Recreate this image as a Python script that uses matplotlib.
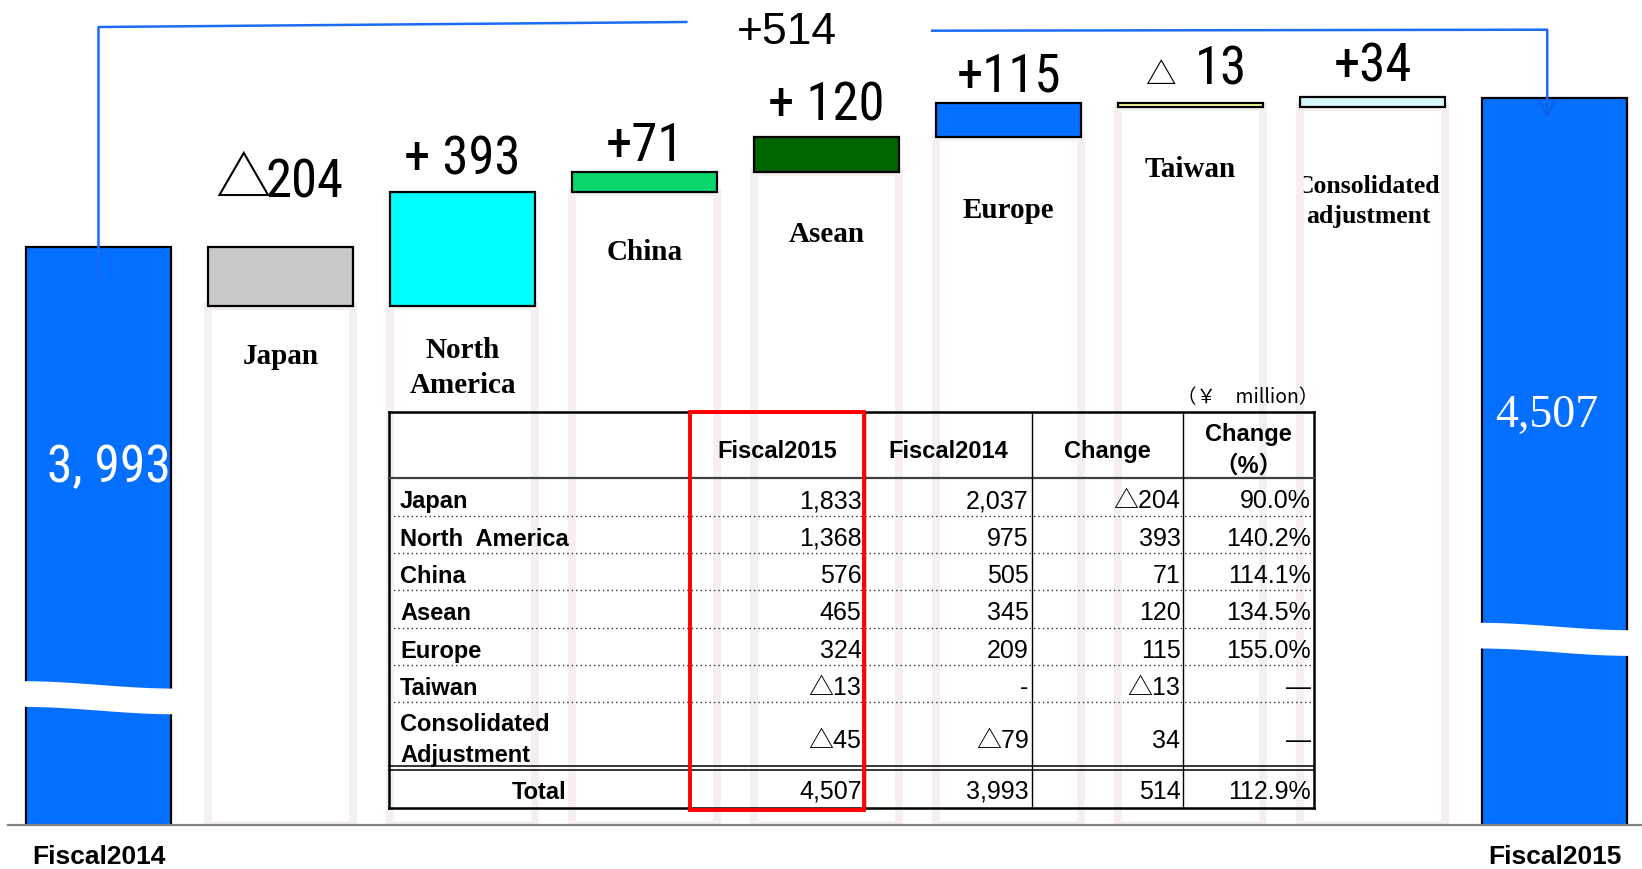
import numpy as np
import matplotlib.pyplot as plt
from matplotlib import font_manager
from matplotlib.font_manager import FontProperties
from matplotlib.patches import Rectangle

# Chart data (¥ million)
fiscal2014_total = 3993
fiscal2015_total = 4507
regions = ['Japan', 'North\nAmerica', 'China', 'Asean', 'Europe', 'Taiwan', 'Consolidated\nadjustment']
changes = [-204, 393, 71, 120, 115, -13, 34]
change_labels = ['△204', '+ 393', '+71', '+ 120', '+115', '△ 13', '+34']
total_change_label = '+514'
region_colors = ['#C8C8C8', '#00FFFF', '#08D86C', '#006400', '#0570FF', '#FFFF99', '#D5F6F8']
total_color = '#0570FF'

# Table data
table_header = ['', 'Fiscal2015', 'Fiscal2014', 'Change', 'Change\n（%）']
table_rows = ['Japan', 'North  America', 'China', 'Asean', 'Europe', 'Taiwan', 'Consolidated\nAdjustment']
table_fy2015 = [1833, 1368, 576, 465, 324, -13, -45]
table_fy2014 = [2037, 975, 505, 345, 209, None, -79]
table_change = [-204, 393, 71, 120, 115, -13, 34]
table_pct = [90.0, 140.2, 114.1, 134.5, 155.0, None, None]
table_total = [4507, 3993, 514, 112.9]

# layout (pixels of the 1642x870 picture)
W, H = 1642, 870
BASE_PX = 826
PX = 0.29          # pixels per ¥ million
Y0 = 2000          # value at the broken baseline
STEP = 182.0       # pixels between bar centres
FIRST = 98.5

# look for a condensed sans face for the big numbers
narrow_file = None
for key in ['LiberationSansNarrow-Regular', 'RobotoCondensed-Regular', 'Roboto_Condensed-Regular',
            'DejaVuSansCondensed.ttf', 'NotoSans-Condensed.ttf', 'NotoSans-CondensedRegular',
            'OpenSans_Condensed-Regular', 'OpenSansCondensed']:
    for f in font_manager.fontManager.ttflist:
        if key in f.fname:
            narrow_file = f.fname
            break
    if narrow_file:
        break


def narrow_font(size):
    if narrow_file:
        return FontProperties(fname=narrow_file, size=size)
    return FontProperties(family='DejaVu Sans', size=size * 0.8)


def ypx(p):
    return Y0 + (BASE_PX - p) / PX


def fmt(v):
    if v is None:
        return '-'
    if v < 0:
        return '△' + f'{-v:,}'
    return f'{v:,}'


fig = plt.figure(figsize=(W / 100, H / 100), dpi=100)
ax = fig.add_axes([0, (H - BASE_PX) / H, 1, BASE_PX / H])
ax.set_xlim(-FIRST / STEP, (W - FIRST) / STEP)
ax.set_ylim(Y0, Y0 + BASE_PX / PX)

# total bars
ax.bar(0, fiscal2014_total, width=0.8, color=total_color, edgecolor='black', lw=1.6, zorder=4)
ax.bar(8, fiscal2015_total, width=0.8, color=total_color, edgecolor='black', lw=1.6, zorder=4)

# waterfall steps
val_off = [51, 19, 12, 17, 13, 20, 17]
cat_off = [36, 30, 46, 48, 59, 48, 67]
cat_size = [21, 21, 21, 21, 21, 21, 18.5]
cat_dx = [0, 0, 0, 0, 0, 0, -4]
# (triangle size, triangle dx, digits dx) for the negative steps
tri_style = {0: (40, -37, 24), 5: (22, -30, 30)}
level = fiscal2014_total
for k, (dv, c) in enumerate(zip(changes, region_colors)):
    i = k + 1
    new = level + dv
    lo, hi = min(level, new), max(level, new)
    ax.bar(i, lo - Y0, bottom=Y0, width=0.8, fill=False, edgecolor='#F5EFEF', lw=5.5, zorder=3)
    ax.bar(i, hi - lo, bottom=lo, width=0.8, color=c, edgecolor='black', lw=1.6, zorder=4)
    if change_labels[k].startswith('△'):
        tsize, tdx, ddx = tri_style[k]
        ax.annotate(change_labels[k][1:].strip(), xy=(i, hi), xytext=(ddx, val_off[k]),
                    textcoords='offset pixels', ha='center', va='baseline',
                    fontproperties=narrow_font(38), annotation_clip=False, zorder=6)
        ax.annotate('△', xy=(i, hi), xytext=(tdx, val_off[k]),
                    textcoords='offset pixels', ha='center', va='baseline',
                    fontsize=tsize, family=['Noto Sans CJK JP', 'DejaVu Sans'],
                    annotation_clip=False, zorder=6)
    else:
        ax.annotate(change_labels[k], xy=(i, hi), xytext=(0, val_off[k]), textcoords='offset pixels',
                    ha='center', va='baseline', fontproperties=narrow_font(38),
                    annotation_clip=False, zorder=6)
    ax.annotate(regions[k], xy=(i, lo), xytext=(cat_dx[k], -cat_off[k]), textcoords='offset pixels',
                ha='center', va='top', fontsize=cat_size[k], family='Liberation Serif',
                weight='bold', linespacing=1.35, annotation_clip=False, zorder=2)
    level = new

# values inside total bars
ax.annotate(f'{fiscal2014_total:,}'.replace(',', ', '), xy=(0, fiscal2014_total), xytext=(10, -220),
            textcoords='offset pixels', ha='center', va='center', color='white',
            fontproperties=narrow_font(37), zorder=6)
ax.annotate(f'{fiscal2015_total:,}', xy=(8, fiscal2015_total), xytext=(-7.5, -317),
            textcoords='offset pixels', ha='center', va='center', color='white',
            fontsize=33, family='Liberation Serif', zorder=6)

# axis break waves
tt = np.linspace(0, 1, 60)
s = (1 - np.cos(np.pi * tt)) / 2
for i, top in [(0, 681.7), (8, 623.3)]:
    xs = i - 0.42 + 0.84 * tt
    top_edge = top + 7.4 * s
    ax.fill_between(xs, ypx(top_edge), ypx(top_edge + 25.7), color='white', lw=0, zorder=5)

# bracket with total change
BR = '#1A6CF5'
ax.plot([0, 0, 3.23], [ypx(278), ypx(28), ypx(23)], color=BR, lw=1.8, zorder=6, clip_on=False)
ax.plot([4.58, 7.96, 7.96], [ypx(31.7), ypx(30.7), ypx(108)], color=BR, lw=1.8, zorder=6, clip_on=False)
ax.annotate('', xy=(7.96, ypx(122)), xytext=(7.96, ypx(100)),
            arrowprops=dict(arrowstyle='->', color='#0E60E6', lw=1.5, mutation_scale=28), zorder=6)
ax.text(3.78, ypx(33), total_change_label, ha='center', va='center', fontsize=32,
        family='Liberation Sans', zorder=6)

# baseline
ax.axhline(Y0, xmin=8.4 / W, xmax=1, color='#808080', lw=1.6, zorder=6, clip_on=False)

ax.set_xticks([0, 8], ['Fiscal2014', 'Fiscal2015'])
ax.tick_params(axis='x', length=0, pad=14, labelsize=19)
for lbl in ax.get_xticklabels():
    lbl.set_fontweight('bold')
    lbl.set_family('Liberation Sans')
ax.set_yticks([])
for sp in ax.spines.values():
    sp.set_visible(False)
ax.patch.set_visible(False)

# ---- table overlay, in picture pixels ----
ov = fig.add_axes([0, 0, 1, 1])
ov.set_xlim(0, W)
ov.set_ylim(H, 0)
ov.axis('off')

TX = [389, 690, 864.5, 1031.7, 1183.4, 1314]
T_TOP, T_HEAD, T_BOT = 413.3, 479.3, 809
RH = 37.33
row_lines = [T_HEAD + RH * k for k in range(1, 7)]
CONS_BOT = 766.7
TOT_TOP = 770.7

ov.plot([TX[0], TX[-1]], [T_TOP, T_TOP], color='black', lw=1.8)
ov.plot([TX[0], TX[-1]], [T_BOT, T_BOT], color='black', lw=1.8)
ov.plot([TX[0], TX[0]], [T_TOP, T_BOT], color='black', lw=1.8)
ov.plot([TX[-1], TX[-1]], [T_TOP, T_BOT], color='black', lw=1.8)
ov.plot([TX[0], TX[-1]], [T_HEAD, T_HEAD], color='#404040', lw=1.6)
for y in row_lines:
    ov.plot([TX[0], TX[-1]], [y, y], color='#333333', lw=1.0, linestyle=(0, (1, 2.2)))
ov.plot([TX[0], TX[-1]], [CONS_BOT, CONS_BOT], color='black', lw=1.1)
ov.plot([TX[0], TX[-1]], [TOT_TOP, TOT_TOP], color='black', lw=1.1)
for x in TX[1:-1]:
    ov.plot([x, x], [T_TOP, T_BOT], color='black', lw=1.0)

sans = ['Liberation Sans', 'Noto Sans CJK JP', 'DejaVu Sans']
for j in range(1, 4):
    ov.text((TX[j] + TX[j + 1]) / 2, 458, table_header[j], ha='center', va='baseline',
            fontsize=17, weight='bold', family=sans)
ch1, ch2 = table_header[4].split('\n')
ov.text((TX[4] + TX[5]) / 2, 441, ch1, ha='center', va='baseline', fontsize=17, weight='bold', family=sans)
ov.text((TX[4] + TX[5]) / 2, 473, ch2, ha='center', va='baseline', fontsize=17, weight='bold', family=sans)

row_base = [T_HEAD + RH * (k + 0.5) + 10.5 for k in range(6)] + [748]
for k, name in enumerate(table_rows):
    yb = row_base[k]
    if k == 6:
        l1, l2 = name.split('\n')
        ov.text(400, 731, l1, ha='left', va='baseline', fontsize=17, weight='bold', family=sans)
        ov.text(400, 762, l2, ha='left', va='baseline', fontsize=17, weight='bold', family=sans)
    else:
        ov.text(400, yb, name, ha='left', va='baseline', fontsize=17, weight='bold', family=sans)
    pct = '—' if table_pct[k] is None else f'{table_pct[k]:.1f}%'
    cells = [fmt(table_fy2015[k]), fmt(table_fy2014[k]), fmt(table_change[k]), pct]
    for j, txt in enumerate(cells):
        ov.text(TX[j + 2] - 3, yb, txt, ha='right', va='baseline', fontsize=18, family=sans)

tot_base = (TOT_TOP + T_BOT) / 2 + 9
ov.text((TX[0] + TX[1]) / 2, tot_base, 'Total', ha='center', va='baseline', fontsize=17,
        weight='bold', family=sans)
tot_cells = [fmt(table_total[0]), fmt(table_total[1]), fmt(table_total[2]), f'{table_total[3]:.1f}%']
for j, txt in enumerate(tot_cells):
    ov.text(TX[j + 2] - 3, tot_base, txt, ha='right', va='baseline', fontsize=18, family=sans)

ov.add_patch(Rectangle((690, 412.7), 174.4, 398, fill=False, edgecolor='#FF0000', lw=2.8, zorder=5))
ov.text(1248, 398, '（￥　million）', ha='center', va='center', fontsize=14,
        family=['Noto Sans CJK JP', 'DejaVu Sans'])

fig.savefig('out.png', dpi=100)
